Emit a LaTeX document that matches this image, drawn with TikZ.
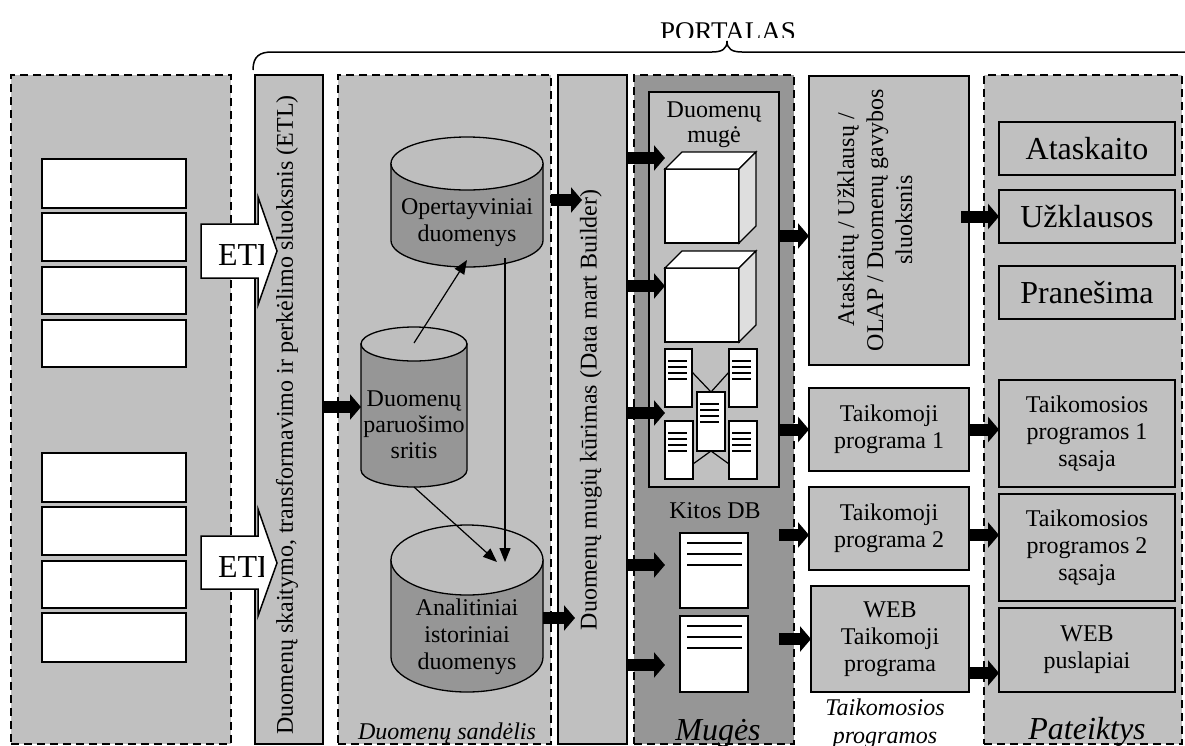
\documentclass[tikz,border=0pt]{standalone}
\usepackage{fontspec}
\setmainfont{Liberation Serif}
\usetikzlibrary{arrows.meta,calc}
\definecolor{panelgray}{HTML}{C0C0C0}
\definecolor{martgray}{HTML}{969696}
\definecolor{cylbody}{HTML}{969696}
\definecolor{cylcap}{HTML}{BEBEBE}
\definecolor{cubeside}{HTML}{DEDEDE}
\newcommand\fz[2]{\fontsize{#1}{#2}\selectfont}
% database cylinder: name, centre x, half width, top-cap centre y, bottom-cap centre y, cap radius
\newcommand\dbcyl[6]{%
  \path[draw, line width=1.3pt, fill=cylbody]
    (#2-#3,#4) -- (#2-#3,#5) arc[start angle=180, end angle=0, x radius=#3, y radius=#6]
    -- (#2+#3,#4) -- cycle;
  \path[draw, line width=1.3pt, fill=cylcap] (#2,#4) ellipse[x radius=#3, y radius=#6];
  \node[minimum width=2*#3, minimum height=#5-#4+2*#6, anchor=north west] (#1) at (#2-#3,#4-#6) {};
}
\begin{document}
\begin{tikzpicture}[x=1pt,y=-1pt,
  every node/.style={inner sep=0pt, outer sep=0pt},
  dpanel/.style={draw, line width=1.6pt, dash pattern=on 8pt off 5pt, fill=panelgray, anchor=north west},
  spanel/.style={draw, line width=1.3pt, fill=panelgray, anchor=north west},
  rec/.style={draw, line width=1.8pt, fill=white, anchor=north west, minimum width=144},
  docp/.style={draw, line width=1.5pt, fill=white, anchor=north west},
  cubeface/.style={draw, line width=1.3pt, fill=white, anchor=north west, minimum width=74, minimum height=74},
  pbox/.style={draw, line width=1.3pt, fill=panelgray, anchor=north west, minimum width=176, align=center, font=\fz{24}{27}},
  abox/.style={draw, line width=1.3pt, fill=panelgray, anchor=north west, align=center, font=\fz{24}{27}},
  lbl/.style={font=\fz{24}{27}, align=center},
  fat/.style={line width=12pt, -{Triangle[length=11pt,width=25pt]}},
  thinarr/.style={line width=1.2pt, -{Triangle[length=14pt,width=11pt]}},
  etlarrow/.style={draw, line width=1.5pt, fill=white},
]
\useasboundingbox (0,0) rectangle (1185,745);

% ---- portal brace and title
\begin{scope}
  \clip (600,0) rectangle (860,37);
  \node[font=\fz{27}{31}, anchor=base] (portal) at (728,40) {PORTALAS};
\end{scope}
\draw[line width=1.5pt] (253,70) .. controls (253,56) and (260,52) .. (272,52) -- (712,52)
  .. controls (722,52) and (727,49) .. (727,41) .. controls (727,49) and (732,52) .. (742,52)
  -- (1182,52) .. controls (1194,52) and (1201,56) .. (1201,70);

% ---- columns
\node[dpanel, minimum width=220, minimum height=669] (src) at (11,75) {};
\node[spanel, minimum width=68, minimum height=669] (etl) at (255,75) {};
\node[dpanel, minimum width=213, minimum height=669] (dw) at (338,75) {};
\node[spanel, minimum width=69, minimum height=669] (dmb) at (558,75) {};
\node[dpanel, fill=martgray, minimum width=160, minimum height=669] (mug) at (634,75) {};
\node[spanel, minimum width=130, minimum height=395] (mugbox) at (649,92) {};
\node[spanel, minimum width=160, minimum height=289] (ata) at (809,76) {};
\node[dpanel, minimum width=198, minimum height=669] (pat) at (984,75) {};

% ---- source records
\foreach \n/\y/\h in {r1/159/49, r2/213/48, r3/267/47, r4/320/47, r5/453/49, r6/507/48, r7/561/47, r8/613/49}
  \node[rec, minimum height=\h] (\n) at (42,\y) {};

% ---- vertical layer captions
\node[font=\fz{24}{27}, rotate=90] (etlT) at (287,415) {Duomenų skaitymo, transformavimo ir perkėlimo sluoksnis (ETL)};
\node[font=\fz{24}{27}, rotate=90] (dmbT) at (591,410) {Duomenų mugių kūrimas (Data mart Builder)};
\node[font=\fz{24}{29}, rotate=90, align=center] (ataT) at (875,220) {Ataskaitų / Užklausų /\\OLAP / Duomenų gavybos\\sluoksnis};

% ---- ETL block arrows
\draw[etlarrow] (201,224) -- (258,224) -- (258,197) -- (277,251) -- (258,305) -- (258,278) -- (201,278) -- cycle;
\draw[etlarrow] (201,536) -- (258,536) -- (258,509) -- (277,563) -- (258,616) -- (258,589) -- (201,589) -- cycle;
\begin{scope}
  \clip (201,190) rectangle (263,620);
  \node[font=\fz{32}{36}, anchor=base west] (etlA) at (218,265) {ETL};
  \node[font=\fz{32}{36}, anchor=base west] (etlB) at (218,577) {ETL};
\end{scope}

% ---- data warehouse
\dbcyl{ops}{467}{76}{163.5}{240.5}{26.5}
\dbcyl{prep}{414}{53}{344}{470}{17}
\dbcyl{ana}{467}{76}{560}{657}{35}
\node[lbl] (opsT) at (467,223) {Opertayviniai\\duomenys};
\node[font=\fz{24}{26}, align=center] (prepT) at (414,425) {Duomenų\\paruošimo\\sritis};
\node[lbl] (anaT) at (467,637) {Analitiniai\\istoriniai\\duomenys};
\draw[thinarr] ([yshift=-16pt]prep.north) -- ([yshift=7pt]ops.south);
\draw[thinarr] ([xshift=38pt,yshift=9pt]ops.south) -- ([xshift=38pt,yshift=-37pt]ana.north);
\draw[thinarr] (prep.south) -- ([xshift=30pt,yshift=-37pt]ana.north);
\node[font=\fz{24}{28}\itshape, anchor=base] (dwL) at (447,739) {Duomenų sandėlis};

% ---- data marts
\node[font=\fz{24}{25}, align=center, anchor=north] (mugT) at (714,102) {Duomenų\\mugė};
\node[cubeface] (cube1) at (665,169) {};
\draw[line width=1.3pt, fill=white] (cube1.north west) -- ++(17,-17) -- ++(74,0) -- (cube1.north east) -- cycle;
\draw[line width=1.3pt, fill=cubeside] (cube1.north east) -- ++(17,-17) -- ++(0,74) -- (cube1.south east) -- cycle;
\node[cubeface] (cube2) at (665,268) {};
\draw[line width=1.3pt, fill=white] (cube2.north west) -- ++(17,-17) -- ++(74,0) -- (cube2.north east) -- cycle;
\draw[line width=1.3pt, fill=cubeside] (cube2.north east) -- ++(17,-17) -- ++(0,74) -- (cube2.south east) -- cycle;

\node[docp, minimum width=27, minimum height=58] (dTL) at (665,349) {};
\node[docp, minimum width=28, minimum height=58] (dTR) at (729,349) {};
\node[docp, minimum width=28, minimum height=59] (dC) at (697,392) {};
\node[docp, minimum width=28, minimum height=58] (dBL) at (665,421) {};
\node[docp, minimum width=28, minimum height=58] (dBR) at (729,421) {};
\foreach \d in {dTL,dTR,dC,dBL,dBR}
  \foreach \k in {12,18,24,30}
    \draw[line width=1.3pt] ([xshift=3pt,yshift=-\k*1pt]\d.north west) -- ++(19,0);
\draw[line width=1.2pt] ([yshift=6pt]dTL.east) -- (dC.north) -- ([yshift=6pt]dTR.west);
\draw[line width=1.2pt] ([yshift=-14pt]dBL.east) -- (dC.south) -- ([yshift=-14pt]dBR.west);

\node[font=\fz{24}{27}, anchor=base] (kitT) at (715,518) {Kitos DB};
\node[docp, minimum width=68, minimum height=75] (kd1) at (680,533) {};
\node[docp, minimum width=68, minimum height=76] (kd2) at (680,616) {};
\foreach \d in {kd1,kd2}
  \foreach \k in {10,21,32}
    \draw[line width=1.6pt] ([xshift=7pt,yshift=-\k*1pt]\d.north west) -- ++(55,0);
\node[font=\fz{32}{36}\itshape, anchor=base] (mugL) at (718,740) {Mugės};

% ---- applications
\node[abox, minimum width=160, minimum height=83] (app1) at (809,388) {Taikomoji\\programa 1};
\node[abox, minimum width=160, minimum height=83] (app2) at (809,487) {Taikomoji\\programa 2};
\node[abox, minimum width=158, minimum height=106] (webapp) at (811,586) {WEB\\Taikomoji\\programa};
\node[font=\fz{24}{28}\itshape, align=center, anchor=north] (appL) at (885,699) {Taikomosios\\programos};

% ---- presentation
\node[pbox, minimum height=53, font=\fz{32}{36}] (rep) at (999,122) {Ataskaito};
\node[pbox, minimum height=53, font=\fz{32}{36}] (qry) at (999,190) {Užklausos};
\node[pbox, minimum height=53, font=\fz{32}{36}] (msg) at (999,266) {Pranešima};
\node[pbox, minimum height=107] (ui1) at (999,380) {Taikomosios\\programos 1\\sąsaja};
\node[pbox, minimum height=107] (ui2) at (999,494) {Taikomosios\\programos 2\\sąsaja};
\node[pbox, minimum height=84] (web) at (999,608) {WEB\\puslapiai};
\node[font=\fz{32}{36}\itshape, anchor=base] (patL) at (1087,739) {Pateiktys};

% ---- data flow arrows
\draw[fat] (etl.east |- prep.west) -- (prep.west);
\draw[fat] (dw.east |- 0,200) -- ++(31,0);
\draw[fat] (ana.east |- 0,618) -- ++(32,0);
\draw[fat] (dmb.east |- 0,158) -- (cube1.west |- 0,158);
\draw[fat] (dmb.east |- 0,286) -- (cube2.west |- 0,286);
\draw[fat] (dmb.east |- 0,413) -- (dTL.west |- 0,413);
\draw[fat] (dmb.east |- 0,565) -- ++(38,0);
\draw[fat] (dmb.east |- 0,665) -- ++(38,0);
\draw[fat] (mugbox.east |- 0,236) -- (ata.west |- 0,236);
\draw[fat] (mugbox.east |- app1.west) -- (app1.west);
\draw[fat] (mugbox.east |- 0,535) -- (app2.west |- 0,535);
\draw[fat] (mugbox.east |- webapp.west) -- (webapp.west);
\draw[fat] ($(qry.west)+(-38,0)$) -- (qry.west);
\draw[fat] (app1.east) -- (app1.east -| ui1.west);
\draw[fat] (app2.east |- 0,535) -- (ui2.west |- 0,535);
\draw[fat] (webapp.east |- 0,673) -- (web.west |- 0,673);
\end{tikzpicture}
\end{document}
